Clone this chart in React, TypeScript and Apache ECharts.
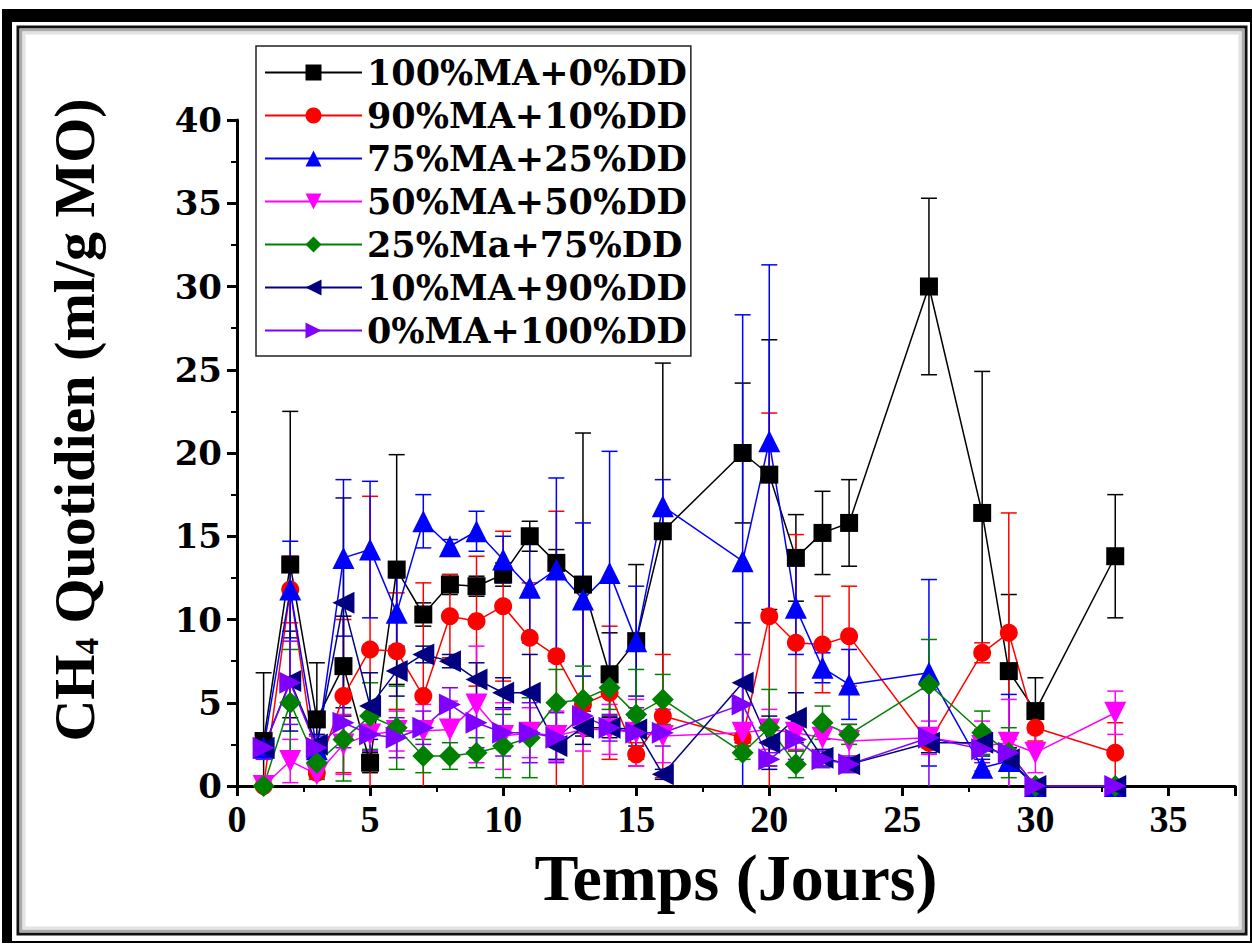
import React, { useEffect, useRef } from "react";
import * as echarts from "echarts";

// Days (x values)
const days = [1, 2, 3, 4, 5, 6, 7, 8, 9, 10, 11, 12, 13, 14, 15, 16, 19, 20, 21, 22, 23, 26, 28, 29, 30, 33];

// Series values (ml/g MO) and standard deviations
const ma100 = [2.7, 13.3, 4.0, 7.2, 1.4, 13.0, 10.3, 12.1, 12.0, 12.7, 15.0, 13.4, 12.1, 6.7, 8.7, 15.3, 20.0, 18.7, 13.7, 15.2, 15.8, 30.0, 16.4, 6.9, 4.5, 13.8];
const ma100Sd = [4.1, 9.2, 3.4, 3.0, 0.6, 6.9, 0.7, 0.6, 0.6, 0.7, 0.9, 0.8, 9.1, 2.5, 4.6, 10.1, 4.2, 8.1, 2.6, 2.5, 2.6, 5.3, 8.5, 4.6, 2.0, 3.7];

const ma90 = [0, 11.8, 0.8, 5.4, 8.2, 8.1, 5.4, 10.2, 9.9, 10.8, 8.9, 7.8, 4.9, 5.6, 1.9, 4.2, 2.9, 10.2, 8.6, 8.5, 9.0, 2.6, 8.0, 9.2, 3.5, 2.0];
const ma90Sd = [0, 2.0, 0.3, 4.6, 9.2, 3.5, 6.8, 2.5, 3.9, 4.5, 3.3, 8.7, 6.0, 4.0, 0.7, 3.7, 0.5, 12.2, 6.5, 2.9, 3.0, 0.3, 0.6, 7.2, 0.8, 1.8];

const ma75 = [2.3, 11.8, 2.2, 13.7, 14.2, 10.4, 15.9, 14.4, 15.3, 13.6, 11.9, 13.0, 11.2, 12.8, 8.7, 16.8, 13.5, 20.7, 10.7, 7.1, 6.1, 6.8, 1.1, 1.5, 0, 0];
const ma75Sd = [0.5, 2.9, 0.5, 4.7, 4.1, 2.1, 1.6, 0.4, 1.2, 1.4, 3.3, 5.5, 4.6, 7.3, 3.3, 1.6, 14.8, 10.6, 2.8, 0.9, 2.1, 5.6, 0.5, 4.0, 0, 0];

const ma50 = [0, 1.5, 0.7, 2.5, 3.1, 3.3, 3.3, 3.4, 4.9, 3.0, 3.2, 3.0, 3.4, 3.4, 3.2, 3.0, 3.2, 3.4, 3.2, 2.9, 2.7, 2.9, 2.4, 2.6, 2.0, 4.4];
const ma50Sd = [0, 1.3, 0.3, 1.8, 1.0, 1.2, 1.6, 1.7, 3.5, 2.0, 1.5, 1.5, 1.3, 1.5, 2.0, 1.6, 0.6, 1.2, 1.0, 1.0, 1.0, 1.0, 1.5, 2.6, 1.2, 1.3];

const ma25 = [0, 5.0, 1.4, 2.8, 4.2, 3.5, 1.8, 1.8, 2.0, 2.4, 2.9, 5.0, 5.2, 5.9, 4.3, 5.2, 2.0, 3.5, 1.3, 3.8, 3.1, 6.1, 3.2, 2.0, 0, 0];
const ma25Sd = [0, 3.2, 1.0, 2.5, 2.0, 2.5, 1.0, 0.8, 0.9, 1.9, 2.4, 2.0, 2.0, 1.3, 2.7, 1.5, 0.4, 2.3, 0.8, 1.0, 0.6, 2.7, 1.3, 1.5, 0, 0];

const ma10 = [2.3, 6.3, 2.5, 11.0, 4.8, 6.9, 7.9, 7.5, 6.4, 5.6, 5.6, 2.4, 3.5, 3.5, 3.4, 0.7, 6.2, 2.6, 4.1, 1.7, 1.3, 2.6, 2.6, 1.6, 0, 0];
const ma10Sd = [0.5, 3.0, 0.6, 6.3, 2.0, 1.5, 0.5, 0.4, 1.0, 0.9, 2.3, 0.8, 1.0, 0.6, 1.0, 0.3, 3.6, 1.6, 1.5, 0.5, 0.4, 0.6, 0.8, 0.7, 0, 0];

const ma0 = [2.3, 6.2, 2.3, 3.8, 3.1, 2.9, 3.5, 4.9, 3.8, 3.2, 3.2, 2.9, 4.2, 3.5, 3.2, 3.2, 4.9, 1.6, 2.8, 1.6, 1.3, 2.9, 2.2, 2.0, 0, 0];
const ma0Sd = [0.7, 2.5, 0.7, 1.5, 1.0, 1.2, 1.0, 1.0, 1.5, 1.4, 1.8, 1.5, 1.0, 0.8, 1.5, 0.8, 3.0, 0.4, 1.2, 0.5, 0.5, 2.9, 0.8, 0.8, 0, 0];

const seriesNames = [
  "100%MA+0%DD",
  "90%MA+10%DD",
  "75%MA+25%DD",
  "50%MA+50%DD",
  "25%Ma+75%DD",
  "10%MA+90%DD",
  "0%MA+100%DD",
];

const xTicks = { min: 0, max: 37.5, interval: 5 };
const yTicks = { min: 0, max: 40, interval: 5 };

const defs = [
  { name: seriesNames[0], color: "#000000", symbol: "rect", size: 18, rotate: 0, values: ma100, sd: ma100Sd },
  { name: seriesNames[1], color: "#ff0000", symbol: "circle", size: 18, rotate: 0, values: ma90, sd: ma90Sd },
  { name: seriesNames[2], color: "#0000ff", symbol: "triangle", size: 22, rotate: 0, values: ma75, sd: ma75Sd },
  { name: seriesNames[3], color: "#ff00ff", symbol: "triangle", size: 22, rotate: 180, values: ma50, sd: ma50Sd },
  { name: seriesNames[4], color: "#008000", symbol: "diamond", size: 22, rotate: 0, values: ma25, sd: ma25Sd },
  { name: seriesNames[5], color: "#000080", symbol: "triangle", size: 22, rotate: 90, values: ma10, sd: ma10Sd },
  { name: seriesNames[6], color: "#8000ff", symbol: "triangle", size: 22, rotate: -90, values: ma0, sd: ma0Sd },
];

export default function App() {
  const ref = useRef<HTMLDivElement>(null);

  useEffect(() => {
    document.body.style.margin = "0";
    const chart = echarts.init(ref.current as HTMLDivElement, null, { renderer: "svg" });

    const lineSeries = defs.map((s) => ({
      type: "line",
      name: s.name,
      data: days.map((d, j) => [d, s.values[j]]),
      symbol: s.symbol,
      symbolSize: s.size,
      symbolRotate: s.rotate,
      showAllSymbol: true,
      lineStyle: { color: s.color, width: 1.5 },
      itemStyle: { color: s.color },
      z: 3,
      clip: false,
    }));

    const errSeries = defs.map((s) => ({
      type: "custom",
      data: days.map((d, j) => [d, s.values[j] - s.sd[j], s.values[j] + s.sd[j]]),
      encode: { x: 0, y: [1, 2] },
      z: 2,
      silent: true,
      renderItem: (_params: any, api: any) => {
        const x = api.value(0);
        const lo = api.value(1);
        const hi = api.value(2);
        if (hi - lo <= 0) return null;
        const loC = Math.max(0, lo);
        const p1 = api.coord([x, loC]);
        const p2 = api.coord([x, hi]);
        const st = { stroke: s.color, lineWidth: 1.5 };
        const children: any[] = [
          { type: "line", shape: { x1: p1[0], y1: p1[1], x2: p2[0], y2: p2[1] }, style: st },
          { type: "line", shape: { x1: p2[0] - 8, y1: p2[1], x2: p2[0] + 8, y2: p2[1] }, style: st },
        ];
        if (lo > 0) {
          children.push({ type: "line", shape: { x1: p1[0] - 8, y1: p1[1], x2: p1[0] + 8, y2: p1[1] }, style: st });
        }
        return { type: "group", children };
      },
    }));

    const serif = "'Liberation Serif', 'Times New Roman', serif";
    const wideSerif = "'DejaVu Serif', serif";

    chart.setOption({
      animation: false,
      backgroundColor: "#ffffff",
      grid: { left: 237, right: 17, top: 120, bottom: 160, containLabel: false },
      legend: {
        data: seriesNames,
        orient: "vertical",
        left: 256,
        top: 46,
        itemWidth: 97,
        itemHeight: 20,
        itemGap: 8,
        padding: [9, 4, 8, 8],
        borderColor: "#222",
        borderWidth: 1.5,
        backgroundColor: "#ffffff",
        textStyle: { fontFamily: wideSerif, fontWeight: "bold", fontSize: 35, lineHeight: 35, color: "#000" },
      },
      xAxis: {
        type: "value",
        min: xTicks.min,
        max: xTicks.max,
        interval: xTicks.interval,
        axisLine: { show: true, onZero: false, lineStyle: { color: "#000", width: 3 } },
        axisTick: { show: true, length: 10, lineStyle: { color: "#000", width: 3 } },
        minorTick: { show: true, splitNumber: 2, length: 6, lineStyle: { color: "#000", width: 2 } },
        splitLine: { show: false },
        axisLabel: { fontFamily: serif, fontWeight: "bold", fontSize: 38, color: "#000", margin: 14, showMaxLabel: false },
        name: "Temps (Jours)",
        nameLocation: "middle",
        nameGap: 58,
        nameTextStyle: { fontFamily: serif, fontWeight: "bold", fontSize: 66, color: "#000", verticalAlign: "top" },
      },
      yAxis: {
        type: "value",
        min: yTicks.min,
        max: yTicks.max,
        interval: yTicks.interval,
        axisLine: { show: true, lineStyle: { color: "#000", width: 3 } },
        axisTick: { show: true, length: 10, lineStyle: { color: "#000", width: 3 } },
        minorTick: { show: true, splitNumber: 2, length: 6, lineStyle: { color: "#000", width: 2 } },
        splitLine: { show: false },
        axisLabel: { fontFamily: wideSerif, fontWeight: "bold", fontSize: 34, color: "#000", margin: 15 },
        name: "{a|CH}{b|4}{a| Quotidien (ml/g MO)}",
        nameLocation: "middle",
        nameGap: 134,
        nameTextStyle: {
          padding: [0, 0, 0, 66],
          rich: {
            a: { fontFamily: serif, fontWeight: "bold", fontSize: 58, color: "#000" },
            b: { fontFamily: serif, fontWeight: "bold", fontSize: 33, color: "#000", verticalAlign: "bottom", lineHeight: 33 },
          },
        },
      },
      graphic: [
        { type: "rect", z: 100, shape: { x: 3, y: 10, width: 1248, height: 932 }, style: { fill: "none", stroke: "#000", lineWidth: 2 } },
        { type: "rect", z: 100, shape: { x: 3, y: 10, width: 1248, height: 12 }, style: { fill: "#000" } },
        { type: "rect", z: 100, shape: { x: 3, y: 10, width: 9, height: 932 }, style: { fill: "#000" } },
        { type: "rect", z: 100, shape: { x: 18, y: 27, width: 1228, height: 907 }, style: { fill: "none", stroke: "#111", lineWidth: 3 } },
        { type: "rect", z: 100, shape: { x: 21, y: 30, width: 1222, height: 901 }, style: { fill: "none", stroke: "#aaa", lineWidth: 3 } },
        { type: "rect", z: 100, shape: { x: 24, y: 33, width: 1216, height: 895 }, style: { fill: "none", stroke: "#e2e2e2", lineWidth: 3 } },
      ],
      series: [...errSeries, ...lineSeries],
    });

    return () => chart.dispose();
  }, []);

  return <div ref={ref} style={{ width: 1252, height: 946, position: "absolute", left: 0, top: 0 }} />;
}
